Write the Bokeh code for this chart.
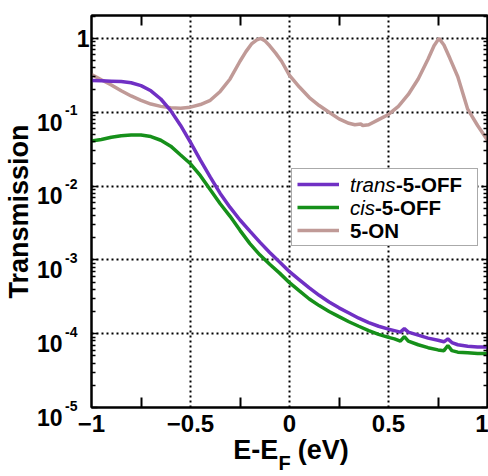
import math
from bokeh.plotting import figure
from bokeh.models import (Range1d, LinearAxis, LogAxis, FixedTicker, LogScale,
                          Legend, LegendItem, CustomJSTickFormatter)
from bokeh.embed import file_html
from bokeh.resources import INLINE

# ---------------- data ----------------
energy_on = [-1.00, -0.95, -0.90, -0.85, -0.80, -0.75, -0.70, -0.65, -0.60, -0.55,
             -0.50, -0.45, -0.40, -0.35, -0.30, -0.25, -0.22, -0.19, -0.165, -0.145,
             -0.125, -0.10, -0.07, -0.04, 0.00, 0.05, 0.10, 0.15, 0.20, 0.25,
             0.30, 0.33, 0.36, 0.37, 0.40, 0.45, 0.50, 0.55, 0.60, 0.65,
             0.70, 0.73, 0.755, 0.78, 0.81, 0.85, 0.90, 0.95, 1.00]
trans_on = [0.324, 0.275, 0.234, 0.195, 0.166, 0.145, 0.129, 0.120, 0.115, 0.1135,
            0.117, 0.127, 0.145, 0.191, 0.282, 0.490, 0.661, 0.851, 0.955, 1.0,
            0.933, 0.794, 0.631, 0.490, 0.316, 0.219, 0.158, 0.123, 0.100, 0.0813,
            0.0708, 0.0676, 0.0692, 0.0661, 0.0676, 0.0794, 0.0933, 0.120, 0.174, 0.282,
            0.525, 0.794, 1.0, 0.813, 0.537, 0.302, 0.110, 0.0661, 0.0417]

energy_off = [-1.00, -0.95, -0.90, -0.85, -0.80, -0.75, -0.70, -0.65, -0.60, -0.55,
              -0.50, -0.45, -0.40, -0.35, -0.30, -0.25, -0.20, -0.15, -0.10, -0.05,
              0.00, 0.05, 0.10, 0.15, 0.20, 0.25, 0.30, 0.35, 0.40, 0.45,
              0.50, 0.53, 0.56, 0.58, 0.60, 0.65, 0.70, 0.75, 0.78, 0.80,
              0.82, 0.85, 0.90, 0.95, 1.00]
trans_5_off = [0.269, 0.266, 0.263, 0.260, 0.251, 0.229, 0.195, 0.151, 0.105, 0.0661,
               0.0389, 0.0224, 0.0132, 0.00794, 0.00513, 0.00347, 0.00245, 0.00174, 0.00126, 0.000933,
               0.000692, 0.000537, 0.000417, 0.000331, 0.000269, 0.000224, 0.000191, 0.000162, 0.000141, 0.000126,
               0.000115, 0.000110, 0.000105, 0.000117, 0.000105, 0.0000955, 0.0000871, 0.0000813, 0.0000776, 0.0000851,
               0.0000759, 0.0000708, 0.0000676, 0.0000661, 0.0000661]
cis_5_off = [0.0407, 0.0427, 0.0457, 0.0479, 0.0490, 0.0490, 0.0468, 0.0417, 0.0347, 0.0263,
             0.0200, 0.0138, 0.00891, 0.00575, 0.00389, 0.00251, 0.00166, 0.00117, 0.000871, 0.000661,
             0.000490, 0.000380, 0.000295, 0.000240, 0.000200, 0.000170, 0.000145, 0.000126, 0.000110, 0.0000977,
             0.0000891, 0.0000851, 0.0000794, 0.0000912, 0.0000794, 0.0000708, 0.0000646, 0.0000603, 0.0000589, 0.0000692,
             0.0000589, 0.0000562, 0.0000550, 0.0000537, 0.0000537]

x_major_ticks = [-1, -0.5, 0, 0.5, 1]
x_minor_ticks = [-0.75, -0.25, 0.25, 0.75]
x_grid_ticks = [-0.5, 0, 0.5]
y_decades = [1e-5, 1e-4, 1e-3, 1e-2, 1e-1, 1.0]
y_grid_ticks = [1e-4, 1e-3, 1e-2, 1e-1, 1.0]
y_label_values = [1e-5, 1e-4, 1e-3, 1e-2, 1e-1]
y_label_exponents = ["-5", "-4", "-3", "-2", "-1"]
legend_italic = ["trans", "cis"]
legend_bold = ["-5-OFF", "-5-OFF", "5-ON"]
xlabel_parts = ["E-E", "(eV)"]
xlabel_sub = ["F"]

FONT = "Liberation Sans"
PURPLE = "#7030c4"
GREEN = "#16901a"
ROSE = "#c09a97"

# ---------------- geometry ----------------
W, H = 488, 476
B_LEFT, B_TOP, B_RIGHT, B_BOTTOM = 88, 15, 1, 61
Y_LO, Y_HI = -5.0, 0.31
PPD = (H - B_TOP - B_BOTTOM) / (Y_HI - Y_LO)
PPX = (W - B_LEFT - B_RIGHT) / 2.0
FRAME_BOTTOM = H - B_BOTTOM

def shifted_range(px_down):
    d = px_down / PPD
    return Range1d(10 ** (Y_LO + d), 10 ** (Y_HI + d))

def px_to_x(px):
    return (px - B_LEFT) / PPX - 1.0

p = figure(width=W, height=H, x_range=Range1d(-1, 1),
           y_range=Range1d(10 ** Y_LO, 10 ** Y_HI),
           y_axis_type="log", output_backend="svg", toolbar_location=None,
           min_border_left=B_LEFT, min_border_right=B_RIGHT,
           min_border_top=B_TOP, min_border_bottom=B_BOTTOM,
           background_fill_color="white", border_fill_color="white")
p.outline_line_color = "black"
p.outline_line_width = 2
p.extra_y_ranges = {"sup": shifted_range(-2.0), "ten": shifted_range(-5.4)}
p.extra_y_scales = {"sup": LogScale(), "ten": LogScale()}

blank = CustomJSTickFormatter(code="return ''")
minor_log = [m * 10.0 ** k for k in range(-5, 1) for m in range(2, 10) if m * 10.0 ** k < 10 ** Y_HI]

def bold_text(axis, size):
    axis.major_label_text_font = FONT
    axis.major_label_text_font_style = "bold"
    axis.major_label_text_font_size = size
    axis.major_label_text_color = "black"

def hide_lines(axis):
    axis.axis_line_color = None
    axis.major_tick_line_color = None
    axis.minor_tick_line_color = None

# bottom axis (frame edge)
xa = p.xaxis[0]
xa.ticker = FixedTicker(ticks=x_major_ticks, minor_ticks=x_minor_ticks)
xa.major_tick_in = 0
xa.major_tick_out = 0
xa.minor_tick_in = 10
xa.minor_tick_out = 0
xa.axis_line_width = 2
xa.minor_tick_line_width = 2
xa.major_label_standoff = 7
bold_text(xa, "24px")

# x label "E-E (eV)" and subscript "F" as label rows below
xl = LinearAxis(ticker=FixedTicker(ticks=[px_to_x(253.5), px_to_x(321.5)]),
                major_label_overrides={px_to_x(253.5): xlabel_parts[0],
                                       px_to_x(321.5): xlabel_parts[1]},
                major_tick_in=0, major_tick_out=0, major_label_standoff=0)
hide_lines(xl)
bold_text(xl, "27px")
p.add_layout(xl, "below")
xf = LinearAxis(ticker=FixedTicker(ticks=[px_to_x(282.5)]),
                major_label_overrides={px_to_x(282.5): xlabel_sub[0]},
                major_tick_in=0, major_tick_out=0, major_label_standoff=-16)
hide_lines(xf)
bold_text(xf, "20px")
p.add_layout(xf, "below")

# left axis (frame edge): ticks + the "1" label
ya = p.yaxis[0]
ya.ticker = FixedTicker(ticks=y_decades, minor_ticks=minor_log)
ya.major_label_overrides = {v: ("1" if v == 1.0 else "") for v in y_decades}
ya.major_tick_in = 6
ya.major_tick_out = 0
ya.minor_tick_in = 4
ya.minor_tick_out = 0
ya.axis_line_width = 2
ya.major_tick_line_width = 1.5
ya.minor_tick_line_width = 1.5
ya.major_label_standoff = 2
bold_text(ya, "23px")

# superscript exponents
ys = LogAxis(y_range_name="sup", ticker=FixedTicker(ticks=y_label_values),
             major_label_overrides=dict(zip(y_label_values, y_label_exponents)),
             major_tick_in=0, major_tick_out=0, major_label_standoff=-4)
hide_lines(ys)
bold_text(ys, "14px")
p.add_layout(ys, "left")

# "10" bases (second line of a two-line label, to sit below the tick) + axis title
yt = LogAxis(y_range_name="ten", ticker=FixedTicker(ticks=y_label_values),
             major_label_overrides={v: "\n10" for v in y_label_values},
             major_tick_in=0, major_tick_out=0, major_label_standoff=0,
             axis_label="Transmission", axis_label_standoff=0,
             axis_label_text_font=FONT, axis_label_text_font_style="bold",
             axis_label_text_font_size="27px", axis_label_text_color="black")
hide_lines(yt)
bold_text(yt, "23px")
p.add_layout(yt, "left")

# top axis
top = LinearAxis(ticker=FixedTicker(ticks=x_major_ticks, minor_ticks=x_minor_ticks),
                 formatter=blank, major_tick_in=0, major_tick_out=0,
                 minor_tick_in=10, minor_tick_out=0, minor_tick_line_width=2,
                 axis_line_width=2, major_label_standoff=0,
                 major_label_text_font_size="1px")
p.add_layout(top, "above")

# right axis
right = LogAxis(ticker=FixedTicker(ticks=y_decades, minor_ticks=minor_log), formatter=blank,
                major_tick_in=6, major_tick_out=0,
                minor_tick_in=4, minor_tick_out=0, axis_line_width=2,
                major_tick_line_width=1.5, minor_tick_line_width=1.5,
                major_label_standoff=0, major_label_text_font_size="1px")
p.add_layout(right, "right")

# grids
p.xgrid.ticker = FixedTicker(ticks=x_grid_ticks)
p.ygrid.ticker = FixedTicker(ticks=y_grid_ticks)
for g in (p.xgrid, p.ygrid):
    g.grid_line_color = "black"
    g.grid_line_width = 2
    g.grid_line_dash = "2 3"
    g.grid_line_alpha = 1

# curves
r_on = p.line(energy_on, trans_on, line_color=ROSE, line_width=3.5)
r_cis = p.line(energy_off, cis_5_off, line_color=GREEN, line_width=3.5)
r_trans = p.line(energy_off, trans_5_off, line_color=PURPLE, line_width=3.5)

# legend box with line samples
DX, DY = -5, -4   # observed offset correction of legend placement
LEG_BOTTOM = 250
legend = Legend(items=[LegendItem(label=" ", renderers=[r_trans]),
                       LegendItem(label=" ", renderers=[r_cis]),
                       LegendItem(label=" ", renderers=[r_on])],
                location=(293 - B_LEFT + DX, FRAME_BOTTOM - LEG_BOTTOM + DY), orientation="vertical",
                glyph_width=42, glyph_height=20, label_width=121, label_height=20,
                label_standoff=12, spacing=3, padding=5, margin=0,
                label_text_font_size="10px",
                border_line_color="#555555", border_line_width=1.5,
                background_fill_color="white", background_fill_alpha=1)
p.add_layout(legend)

# legend texts (mixed italic / bold), each a borderless one-item legend
renderers = [r_trans, r_cis, r_on]
row_centers = [LEG_BOTTOM - 61, LEG_BOTTOM - 38, LEG_BOTTOM - 15]
text_parts = [
    (legend_italic[0], "italic", 352, 0),
    (legend_bold[0], "bold", 398, 0),
    (legend_italic[1], "italic", 352, 1),
    (legend_bold[1], "bold", 377, 1),
    (legend_bold[2], "bold", 352, 2),
]
for txt, style, x_px, row in text_parts:
    lg = Legend(items=[LegendItem(label=txt, renderers=[renderers[row]])],
                location=(x_px - B_LEFT + DX, FRAME_BOTTOM - (row_centers[row] + 12) + DY),
                glyph_width=0, glyph_height=24, label_height=24, label_width=10,
                label_standoff=0, padding=0, spacing=0, margin=0,
                border_line_color=None, background_fill_alpha=0,
                label_text_font=FONT, label_text_font_style=style,
                label_text_font_size="20.5px", label_text_color="black")
    p.add_layout(lg)

open("out.html", "w").write(file_html(p, INLINE))
